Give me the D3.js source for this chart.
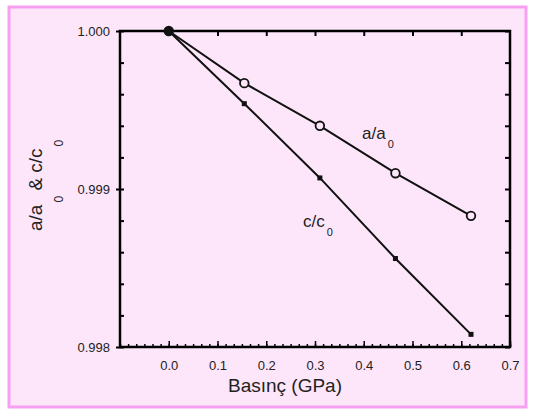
<!DOCTYPE html>
<html>
<head>
<meta charset="utf-8">
<script src="https://cdn.jsdelivr.net/npm/d3@7"></script>
<style>
  body { margin: 0; background: #fff; }
  svg { display: block; font-family: "Liberation Sans", Arial, sans-serif; }
</style>
</head>
<body>
<div id="chart"></div>
<script>
// pressure (GPa) and lattice ratios
const pressure = [0, 0.155, 0.31, 0.465, 0.62];
const aRatio = [1.0000, 0.99967, 0.99940, 0.99910, 0.99883];
const cRatio = [1.0000, 0.99954, 0.99907, 0.99856, 0.99808];

const xTicks = [0.0, 0.1, 0.2, 0.3, 0.4, 0.5, 0.6, 0.7];
const yTicks = [0.998, 0.999, 1.000];

const W = 540, H = 411;
const m = { left: 120, right: 510, top: 31, bottom: 347 };

const svg = d3.select("#chart").append("svg")
    .attr("width", W)
    .attr("height", H);

// frame of the picture
svg.append("rect")
    .attr("x", 9).attr("y", 7)
    .attr("width", 517).attr("height", 400)
    .attr("fill", "#fde6fa")
    .attr("stroke", "#f7a0f2")
    .attr("stroke-width", 3);

const x = d3.scaleLinear().domain([-0.1, 0.7]).range([m.left, m.right]);
const y = d3.scaleLinear().domain([0.998, 1.000]).range([m.bottom, m.top]);

const fmt = d3.format(".1f");

// bottom axis: major ticks up, minor ticks in between
const minorX = d3.range(-0.1, 0.7001, 0.1 / 6);
svg.append("g")
    .attr("transform", `translate(0,${m.bottom})`)
    .call(d3.axisBottom(x).tickValues(minorX).tickSize(-3).tickFormat(""))
    .call(g => g.select(".domain").remove())
    .selectAll("line").attr("stroke-width", 1.5);

svg.append("g")
    .attr("class", "xaxis")
    .attr("transform", `translate(0,${m.bottom})`)
    .call(d3.axisBottom(x).tickValues(xTicks).tickSize(-6).tickPadding(14).tickFormat(fmt))
    .call(g => g.select(".domain").remove())
    .call(g => g.selectAll("line").attr("stroke-width", 1.5))
    .call(g => g.selectAll("text")
        .attr("font-size", 13)
        .attr("fill", "#222")
        .attr("font-family", "Liberation Sans, Arial, sans-serif"));

// top axis: major ticks only
svg.append("g")
    .attr("transform", `translate(0,${m.top})`)
    .call(d3.axisTop(x).tickValues(xTicks.slice(1, 7)).tickSize(-5).tickFormat(""))
    .call(g => g.select(".domain").remove())
    .selectAll("line").attr("stroke-width", 2);

// left axis
const minorY = d3.range(0.998, 1.00001, 0.0002);
svg.append("g")
    .attr("transform", `translate(${m.left},0)`)
    .call(d3.axisLeft(y).tickValues(minorY).tickSize(-4).tickFormat(""))
    .call(g => g.select(".domain").remove())
    .selectAll("line").attr("stroke-width", 2);

svg.append("g")
    .attr("transform", `translate(${m.left},0)`)
    .call(d3.axisLeft(y).tickValues(yTicks).tickSize(4).tickPadding(6).tickFormat(d3.format(".3f")))
    .call(g => g.select(".domain").remove())
    .call(g => g.selectAll("line").attr("stroke-width", 2))
    .call(g => g.selectAll("text")
        .attr("font-size", 13)
        .attr("fill", "#222")
        .attr("font-family", "Liberation Sans, Arial, sans-serif"));

// right axis
svg.append("g")
    .attr("transform", `translate(${m.right},0)`)
    .call(d3.axisRight(y).tickValues(minorY).tickSize(-5).tickFormat(""))
    .call(g => g.select(".domain").remove())
    .selectAll("line").attr("stroke-width", 2);

// box
svg.append("rect")
    .attr("x", m.left).attr("y", m.top)
    .attr("width", m.right - m.left).attr("height", m.bottom - m.top)
    .attr("fill", "none")
    .attr("stroke", "#000")
    .attr("stroke-width", 2.5);

const aData = pressure.map((p, i) => ({ p: p, v: aRatio[i] }));
const cData = pressure.map((p, i) => ({ p: p, v: cRatio[i] }));

const line = d3.line().x(d => x(d.p)).y(d => y(d.v));

svg.append("path").datum(aData)
    .attr("d", line).attr("fill", "none")
    .attr("stroke", "#111").attr("stroke-width", 2);
svg.append("path").datum(cData)
    .attr("d", line).attr("fill", "none")
    .attr("stroke", "#111").attr("stroke-width", 2);

// c/c0 markers: small filled squares
svg.append("g").selectAll("rect")
    .data(cData)
    .join("rect")
    .attr("x", d => x(d.p) - 2.5)
    .attr("y", d => y(d.v) - 2.5)
    .attr("width", 5).attr("height", 5)
    .attr("fill", "#111");

// a/a0 markers: open circles
svg.append("g").selectAll("circle")
    .data(aData)
    .join("circle")
    .attr("cx", d => x(d.p))
    .attr("cy", d => y(d.v))
    .attr("r", 4.3)
    .attr("fill", (d, i) => i === 0 ? "#111" : "#fde6fa")
    .attr("stroke", "#111")
    .attr("stroke-width", 1.8);

// axis titles
svg.append("text")
    .attr("x", 285).attr("y", 392)
    .attr("text-anchor", "middle")
    .attr("font-size", 19)
    .attr("fill", "#222")
    .text("Basınç (GPa)");

const yt = svg.append("text")
    .attr("transform", "translate(42,231) rotate(-90)")
    .attr("font-size", 19)
    .attr("fill", "#222");
yt.append("tspan").text("a/a");
yt.append("tspan").attr("font-size", 12).attr("dy", 21).attr("dx", 2).text("0");
yt.append("tspan").attr("dy", -21).text(" & c/c");
yt.append("tspan").attr("font-size", 12).attr("dy", 21).attr("dx", 2).text("0");

// curve labels
function label(px, py, main) {
    const t = svg.append("text")
        .attr("x", px).attr("y", py)
        .attr("font-size", 17)
        .attr("fill", "#222");
    t.append("tspan").text(main);
    t.append("tspan").attr("font-size", 11).attr("dy", 9).attr("dx", 2).text("0");
}
label(362, 139, "a/a");
label(303, 227, "c/c");
</script>
</body>
</html>
